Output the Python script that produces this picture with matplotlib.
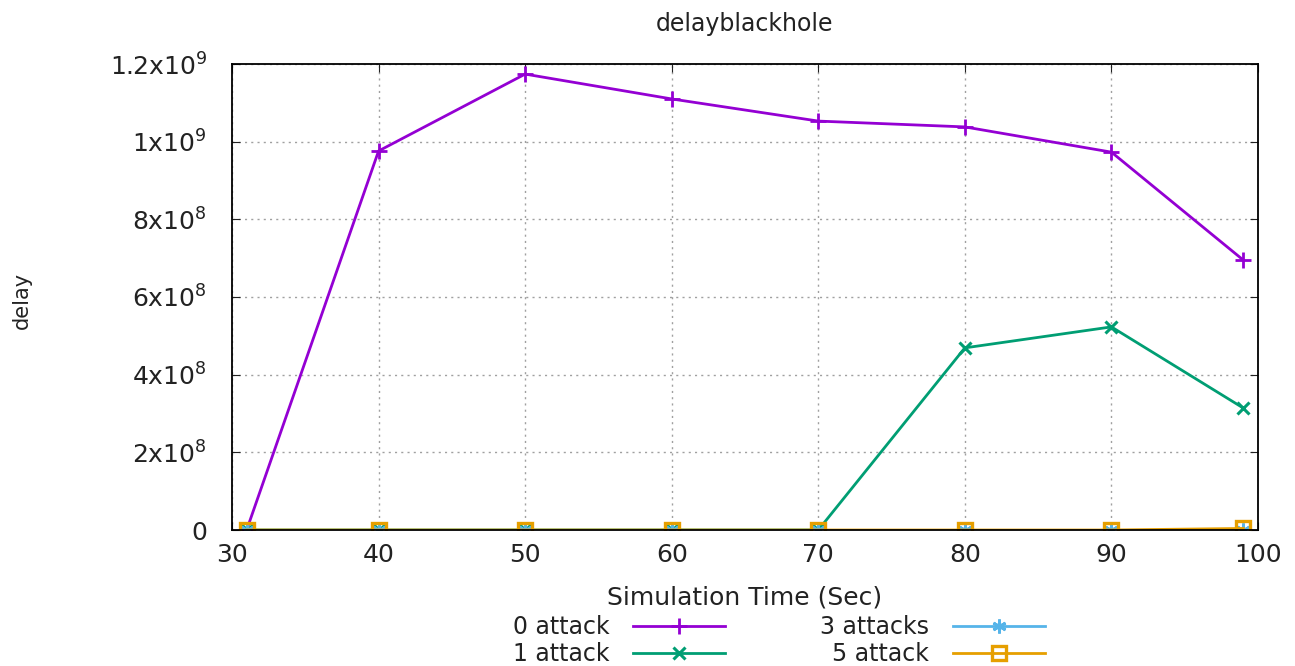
import numpy as np
import matplotlib
matplotlib.use("Agg")
import matplotlib.pyplot as plt

sim_time = [31, 40, 50, 60, 70, 80, 90, 99]
attack0 = [0.0, 0.976e9, 1.174e9, 1.110e9, 1.053e9, 1.038e9, 0.973e9, 0.695e9]
attack1 = [0.0, 0.0, 0.0, 0.0, 0.0, 0.469e9, 0.523e9, 0.314e9]
attack3 = [0.0, 0.0, 0.0, 0.0, 0.0, 0.0, 0.0, 0.0]
attack5 = [0.0, 0.0, 0.0, 0.0, 0.0, 0.0, 0.0, 0.004e9]

ytick_vals = [0, 2e8, 4e8, 6e8, 8e8, 1e9, 1.2e9]
ytick_labels = ['0', r'2x10$^{8}$', r'4x10$^{8}$', r'6x10$^{8}$',
                r'8x10$^{8}$', r'1x10$^{9}$', r'1.2x10$^{9}$']
xtick_vals = [30, 40, 50, 60, 70, 80, 90, 100]

plt.rcParams['font.family'] = ['DejaVu Sans']
plt.rcParams['mathtext.default'] = 'regular'

W, H = 1295, 666
fig = plt.figure(figsize=(W / 100, H / 100), dpi=100)
ax = fig.add_axes([232/W, 1 - 530/H, (1258 - 232)/W, (530 - 64)/H])

lw = 2.0
l0, = ax.plot(sim_time, attack0, color='#9400D3', lw=lw, marker='+', ms=12, mew=2, label='0 attack')
l1, = ax.plot(sim_time, attack1, color='#009E73', lw=lw, marker='x', ms=9, mew=2.2, label='1 attack')
l3, = ax.plot(sim_time, attack3, color='#56B4E9', lw=lw, marker=(6, 2, 0), ms=10, mew=2, label='3 attacks')
l5, = ax.plot(sim_time, attack5, color='#E69F00', lw=lw, marker='s', ms=10, mew=2.4, mfc='none', label='5 attack')

ax.set_xlim(30, 100)
ax.set_ylim(0, 1.2e9)
ax.set_xticks(xtick_vals)
ax.set_yticks(ytick_vals)
ax.set_yticklabels(ytick_labels)
ax.tick_params(direction='in', top=True, right=True, labelsize=18, length=6, colors='#222222')
ax.tick_params(axis='y', pad=18)
ax.tick_params(axis='x', pad=9)
ax.grid(True, linestyle=(0, (1.5, 3)), color='#a0a0a0', lw=1)
for s in ax.spines.values():
    s.set_linewidth(1.3)
    s.set_color('black')

ax.set_title('delayblackhole', fontsize=17, pad=24, color='#222222')
ax.set_xlabel('Simulation Time (Sec)', fontsize=18, labelpad=14, color='#222222')
fig.text(22/W, 1 - 300/H, 'delay', rotation=90, fontsize=15, ha='center', va='center', color='#222222')

leg_kw = dict(frameon=False, markerfirst=False, fontsize=17, handlelength=3.9,
              labelspacing=0.12, handletextpad=1.0, borderpad=0, borderaxespad=0,
              loc='upper right')
leg1 = fig.legend(handles=[l0, l1], bbox_to_anchor=(725/W, 1 - 615/H), **leg_kw)
leg2 = fig.legend(handles=[l3, l5], bbox_to_anchor=(1045/W, 1 - 615/H), **leg_kw)
for leg in (leg1, leg2):
    for t in leg.get_texts():
        t.set_ha('right')
        t.set_color('#222222')

fig.savefig('out.png', dpi=100)
